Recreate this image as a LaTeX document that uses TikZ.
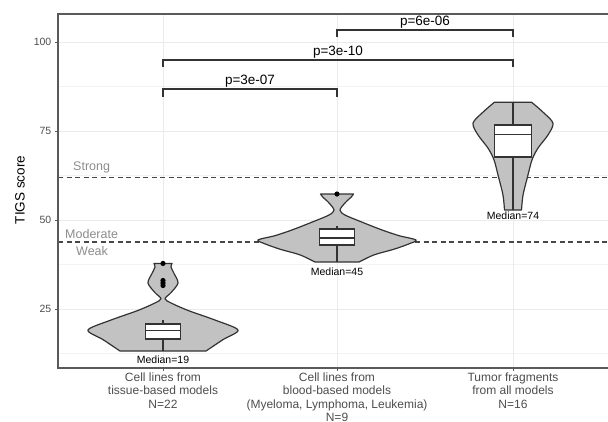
\documentclass[tikz,border=0pt]{standalone}
\usepackage{fontspec}
\setmainfont{Liberation Sans}
\usetikzlibrary{positioning}

\definecolor{violinfill}{HTML}{C2C2C2}
\definecolor{gridgray}{HTML}{EBEBEB}
\definecolor{axisgray}{HTML}{5A5A5A}
\definecolor{ticktext}{HTML}{4D4D4D}
\definecolor{levelgray}{HTML}{8C8C8C}
\definecolor{darkline}{HTML}{333333}

\tikzset{
  violin/.style={fill=violinfill,draw=darkline,line width=1.2pt,line join=round},
  boxline/.style={draw=darkline,line width=1.8pt,fill=white},
  whisker/.style={draw=darkline,line width=1.6pt},
  gridmajor/.style={draw=gridgray,line width=1pt},
  gridminor/.style={draw=gridgray!60,line width=0.6pt},
  levelline/.style={draw=darkline!90,line width=1.3pt,dash pattern=on 5pt off 3.5pt},
  bracket/.style={draw=darkline,line width=2pt},
  ptext/.style={font=\fontsize{13.5}{15}\selectfont,text=black,inner sep=1pt},
  medtext/.style={font=\fontsize{10.5}{12}\selectfont,text=black,inner sep=0pt},
  ticklabel/.style={font=\fontsize{10.5}{12}\selectfont,text=ticktext,inner sep=0pt},
  catlabel/.style={font=\fontsize{12}{13.2}\selectfont,text=ticktext,align=center,inner sep=0pt},
  levellabel/.style={font=\fontsize{12.5}{14}\selectfont,text=levelgray,inner sep=0pt},
  outlier/.style={fill=black}
}

\begin{document}
\begin{tikzpicture}[x=1pt,y=-1pt]
    \useasboundingbox (0,0) rectangle (608,421);
    \pgfmathsetmacro{\panelleft}{58}
    \pgfmathsetmacro{\panelright}{608}
    \pgfmathsetmacro{\ymin}{8.43}
    \pgfmathsetmacro{\ymax}{107.9}
    \pgfmathsetmacro{\catA}{163}
    \pgfmathsetmacro{\catB}{337}
    \pgfmathsetmacro{\catC}{513}
    % data y, pixel x
    \begin{scope}[shift={(0,398)},y=3.56pt]
    % grid
    \foreach \v in {12.5,37.5,62.5,87.5}
        \draw[gridminor] (\panelleft,\v) -- (\panelright,\v);
    \foreach \v in {25,50,75,100}
        \draw[gridmajor] (\panelleft,\v) -- (\panelright,\v);
    \foreach \c in {\catA,\catB,\catC}
        \draw[gridmajor] (\c,\ymin) -- (\c,\ymax);

    % response levels
    \draw[levelline] (\panelleft,62) -- (\panelright,62);
    \draw[levelline] (\panelleft,43.8) -- (\panelright,43.8);
    \node[levellabel,anchor=south west] (strong) at (73,63.2) {Strong};
    \node[levellabel,anchor=south west] (moderate) at (65,44.7) {Moderate};
    \node[levellabel,anchor=north west] (weak) at (76,42.6) {Weak};

    % tissue-based cell lines
    \begin{scope}[shift={(\catA,0)}]
    \filldraw[violin] (-43,13.2) -- (43,13.2)
        -- plot[smooth] coordinates {(43,13.2) (60,16.4) (75,19.1) (52,21.9) (25,24.6) (8,26.7) (2,27.9) (8,29.6) (15,32.3) (11,35.0) (8,36.8) (9,37.8)}
        -- (-9,37.8)
        -- plot[smooth] coordinates {(-9,37.8) (-8,36.8) (-11,35.0) (-15,32.3) (-8,29.6) (-2,27.9) (-8,26.7) (-25,24.6) (-52,21.9) (-75,19.1) (-60,16.4) (-43,13.2)}
        -- cycle;
    \draw[whisker] (0,16.6) -- (0,13.2);
    \draw[whisker] (0,20.8) -- (0,21.9);
    \draw[boxline] (-17.5,16.6) rectangle (17.5,20.8);
    \draw[whisker] (-17.5,19) -- (17.5,19);
    \foreach \v in {31.6,32.3,33.0,37.8}
        \fill[outlier] (0,\v) circle (2.6pt);
    \node[medtext] (medA) at (0,10.7) {Median=19};
    \end{scope}

    % blood-based cell lines
    \begin{scope}[shift={(\catB,0)}]
    \filldraw[violin] (-22,38.2) -- (22,38.2)
        -- plot[smooth] coordinates {(22,38.2) (37,40.2) (57,41.8) (72,43.3) (79,44.4) (62,45.6) (45,47.2) (25,49.4) (8,51.4) (3,52.8) (8,54.8) (14,56.4) (16.5,57.3)}
        -- (-16.5,57.3)
        -- plot[smooth] coordinates {(-16.5,57.3) (-14,56.4) (-8,54.8) (-3,52.8) (-8,51.4) (-25,49.4) (-45,47.2) (-62,45.6) (-79,44.4) (-72,43.3) (-57,41.8) (-37,40.2) (-22,38.2)}
        -- cycle;
    \draw[whisker] (0,43.0) -- (0,38.2);
    \draw[whisker] (0,47.4) -- (0,48.3);
    \draw[boxline] (-17.5,43.0) rectangle (17.5,47.4);
    \draw[whisker] (-17.5,45) -- (17.5,45);
    \fill[outlier] (0,57.3) circle (2.6pt);
    \node[medtext] (medB) at (0,35.4) {Median=45};
    \end{scope}

    % tumor fragments
    \begin{scope}[shift={(\catC,0)}]
    \filldraw[violin] (-8.5,52.8) -- (8.5,52.8)
        -- plot[smooth] coordinates {(8.5,52.8) (10,57) (14.5,62.1) (19,66.9) (25,70.2) (35,73.9) (40,77.2) (30,80.3) (18.5,83.1)}
        -- (-18.5,83.1)
        -- plot[smooth] coordinates {(-18.5,83.1) (-30,80.3) (-40,77.2) (-35,73.9) (-25,70.2) (-19,66.9) (-14.5,62.1) (-10,57) (-8.5,52.8)}
        -- cycle;
    \draw[whisker] (0,67.7) -- (0,52.8);
    \draw[whisker] (0,76.7) -- (0,83.1);
    \draw[boxline] (-18.5,67.7) rectangle (18.5,76.7);
    \draw[whisker] (-18.5,74) -- (18.5,74);
    \node[medtext] (medC) at (0,51.1) {Median=74};
    \end{scope}

    % comparisons
    \coordinate (brAB1) at (\catA,86.8);
    \coordinate (brAB2) at (\catB,86.8);
    \coordinate (brAC1) at (\catA,94.9);
    \coordinate (brAC2) at (\catC,94.9);
    \coordinate (brBC1) at (\catB,103.4);
    \coordinate (brBC2) at (\catC,103.4);
    \draw[bracket] ([yshift=-2.2*3.56pt]brAB1) -- (brAB1) -- node[ptext,above] (pAB) {p=3e-07} (brAB2) -- ([yshift=-2.2*3.56pt]brAB2);
    \draw[bracket] ([yshift=-2*3.56pt]brAC1) -- (brAC1) -- node[ptext,above] (pAC) {p=3e-10} (brAC2) -- ([yshift=-2*3.56pt]brAC2);
    \draw[bracket] ([yshift=-2*3.56pt]brBC1) -- (brBC1) -- node[ptext,above] (pBC) {p=6e-06} (brBC2) -- ([yshift=-2*3.56pt]brBC2);

    % axes
    \draw[axisgray,line width=1.8pt] (\panelright,\ymax) -- (\panelleft,\ymax) -- (\panelleft,\ymin) -- (\panelright,\ymin);
    \foreach \v in {25,50,75,100} {
        \draw[axisgray,line width=1pt] (\panelleft,\v) -- ++(-3.5pt,0);
        \node[ticklabel,anchor=east] (tick\v) at (51.5,\v) {\v};
    }
    \foreach \c in {\catA,\catB,\catC}
        \draw[axisgray,line width=1pt] (\c,\ymin) -- ++(0,-3.5pt);
    \node[catlabel,anchor=north] (catA) at (\catA,7.1) {Cell lines from\\tissue-based models\\N=22};
    \node[catlabel,anchor=north] (catB) at (\catB,7.1) {Cell lines from\\blood-based models\\(Myeloma, Lymphoma, Leukemia)\\N=9};
    \node[catlabel,anchor=north] (catC) at (\catC,7.1) {Tumor fragments\\from all models\\N=16};
    \end{scope}
    \node[font=\fontsize{13.5}{15}\selectfont,rotate=90] (ytitle) at (20,190) {TIGS score};
\end{tikzpicture}
\end{document}
